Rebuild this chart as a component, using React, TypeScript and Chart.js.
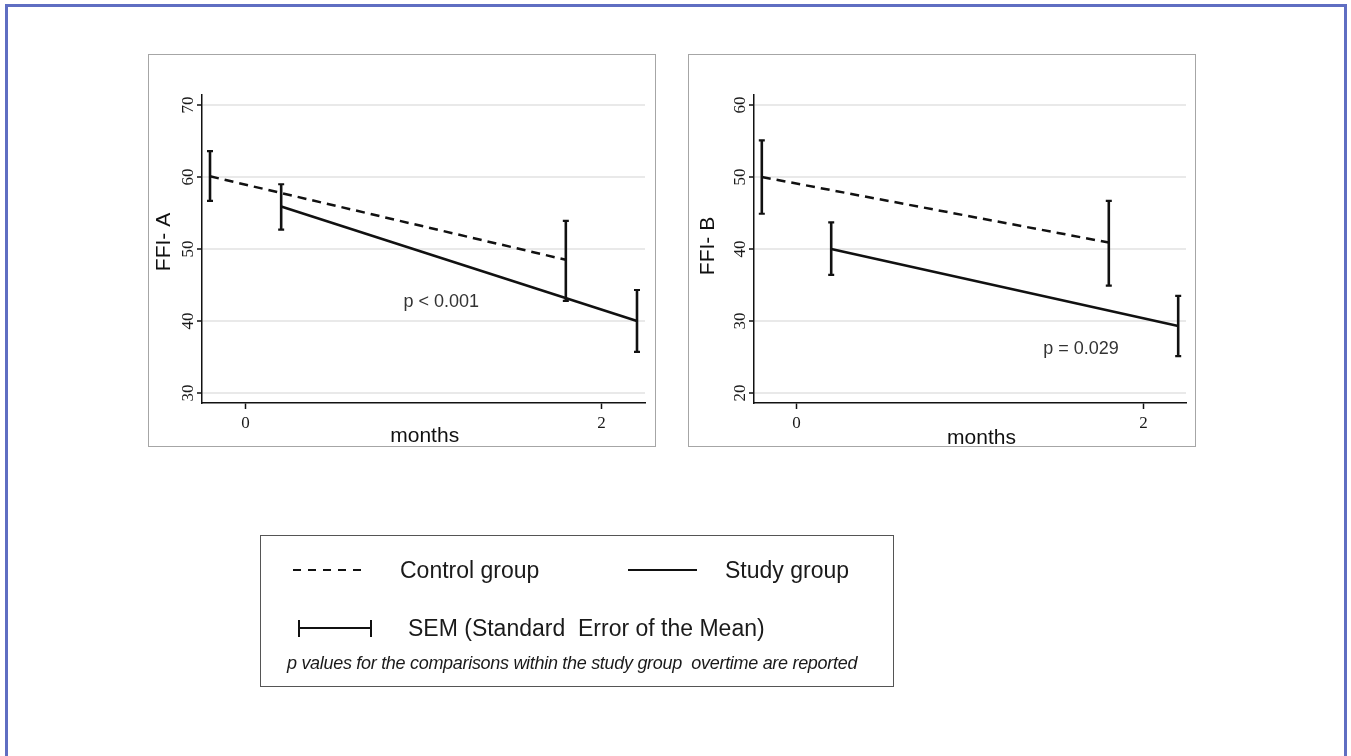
import React, { useEffect, useRef } from "react";
import { Chart, registerables } from "chart.js";

Chart.register(...registerables);

// ---------- data ----------
const xTicks = [0, 2];
const xTickLabels = ["0", "2"];

const yTicksA = [30, 40, 50, 60, 70];
const yTickLabelsA = ["30", "40", "50", "60", "70"];
const yTicksB = [20, 30, 40, 50, 60];
const yTickLabelsB = ["20", "30", "40", "50", "60"];

// time points are dodged so the two groups do not overlap
const controlX = [-0.2, 1.8];
const studyX = [0.2, 2.2];

const controlMeanA = [60.1, 48.5];
const controlLowA = [56.7, 42.8];
const controlHighA = [63.6, 53.9];
const studyMeanA = [55.9, 40.0];
const studyLowA = [52.7, 35.7];
const studyHighA = [59.0, 44.3];

const controlMeanB = [50.0, 40.9];
const controlLowB = [44.9, 34.9];
const controlHighB = [55.1, 46.7];
const studyMeanB = [40.0, 29.3];
const studyLowB = [36.4, 25.1];
const studyHighB = [43.7, 33.5];

const pTextA = "p < 0.001";
const pPosA = [1.1, 42.6];
const pTextB = "p = 0.029";
const pPosB = [1.64, 26.1];

const yTitleA = "FFI- A";
const yTitleB = "FFI- B";
const xTitle = "months";

// ---------- panel ----------
type PanelProps = {
  left: number;
  top: number;
  width: number;
  height: number;
  areaLeft: number;
  areaTop: number;
  areaRight: number;
  areaBottom: number;
  yMin: number;
  yMax: number;
  yTicks: number[];
  yTickLabels: string[];
  cMean: number[];
  cLow: number[];
  cHigh: number[];
  sMean: number[];
  sLow: number[];
  sHigh: number[];
  pText: string;
  pPos: number[];
  yTitle: string;
  yTitleDx: number;
  yTitleY: number;
  xTitleX: number;
  xTitleBase: number;
};

function Panel(p: PanelProps) {
  const ref = useRef<HTMLCanvasElement | null>(null);
  useEffect(() => {
    if (!ref.current) return;
    const decor = {
      id: "decor" + p.left,
      afterDatasetsDraw(chart: any) {
        const ctx = chart.ctx as CanvasRenderingContext2D;
        const xs = chart.scales.x;
        const ys = chart.scales.y;
        const drawBars = (xv: number[], lo: number[], hi: number[]) => {
          ctx.save();
          ctx.strokeStyle = "#111";
          for (let i = 0; i < xv.length; i++) {
            const px = xs.getPixelForValue(xv[i]);
            const yl = ys.getPixelForValue(lo[i]);
            const yh = ys.getPixelForValue(hi[i]);
            ctx.lineWidth = 2.6;
            ctx.beginPath();
            ctx.moveTo(px, yl);
            ctx.lineTo(px, yh);
            ctx.stroke();
            ctx.lineWidth = 2.2;
            ctx.beginPath();
            ctx.moveTo(px - 3, yl);
            ctx.lineTo(px + 3, yl);
            ctx.moveTo(px - 3, yh);
            ctx.lineTo(px + 3, yh);
            ctx.stroke();
          }
          ctx.restore();
        };
        drawBars(controlX, p.cLow, p.cHigh);
        drawBars(studyX, p.sLow, p.sHigh);
      },
      afterDraw(chart: any) {
        const ctx = chart.ctx as CanvasRenderingContext2D;
        const xs = chart.scales.x;
        const ys = chart.scales.y;
        const area = chart.chartArea;
        ctx.save();
        // y tick labels (rotated)
        ctx.fillStyle = "#1a1a1a";
        ctx.font = '17px "Liberation Serif"';
        ctx.textAlign = "center";
        ctx.textBaseline = "middle";
        p.yTicks.forEach((v, i) => {
          const py = ys.getPixelForValue(v);
          ctx.save();
          ctx.translate(area.left - 13.5, py);
          ctx.rotate(-Math.PI / 2);
          ctx.fillText(p.yTickLabels[i], 0, 0);
          ctx.restore();
        });
        // x tick labels
        xTicks.forEach((v, i) => {
          const px = xs.getPixelForValue(v);
          ctx.fillText(xTickLabels[i], px, area.bottom + 21);
        });
        // axis titles
        ctx.fillStyle = "#111";
        ctx.font = '21px "Liberation Sans"';
        ctx.textBaseline = "alphabetic";
        ctx.fillText(xTitle, p.xTitleX - p.left, p.xTitleBase - p.top);
        ctx.save();
        ctx.translate(area.left + p.yTitleDx, p.yTitleY - p.top);
        ctx.rotate(-Math.PI / 2);
        ctx.textBaseline = "middle";
        ctx.fillText(p.yTitle, 0, 0);
        ctx.restore();
        // p value annotation
        ctx.fillStyle = "#333";
        ctx.font = '18px "Liberation Sans"';
        ctx.textBaseline = "middle";
        ctx.fillText(p.pText, xs.getPixelForValue(p.pPos[0]), ys.getPixelForValue(p.pPos[1]));
        ctx.restore();
      },
    };
    const chart = new Chart(ref.current, {
      type: "line",
      data: {
        datasets: [
          {
            data: controlX.map((x, i) => ({ x, y: p.cMean[i] })),
            borderColor: "#111",
            borderWidth: 2.5,
            borderDash: [9, 6],
            pointRadius: 0,
            fill: false,
            tension: 0,
          },
          {
            data: studyX.map((x, i) => ({ x, y: p.sMean[i] })),
            borderColor: "#111",
            borderWidth: 2.5,
            pointRadius: 0,
            fill: false,
            tension: 0,
          },
        ],
      },
      options: {
        responsive: false,
        animation: false,
        devicePixelRatio: 1,
        layout: {
          padding: { left: 0, top: p.areaTop, right: p.width - p.areaRight, bottom: 0 },
        },
        plugins: { legend: { display: false }, tooltip: { enabled: false } },
        scales: {
          x: {
            type: "linear",
            min: -0.245,
            max: 2.245,
            afterBuildTicks: (s: any) => {
              s.ticks = xTicks.map((v) => ({ value: v }));
            },
            afterFit: (s: any) => {
              s.height = p.height - p.areaBottom;
            },
            ticks: { display: false },
            grid: {
              display: true,
              drawOnChartArea: false,
              drawTicks: true,
              tickLength: 6,
              tickColor: "#111",
              tickWidth: 1.5,
            },
            border: { display: true, color: "#111", width: 1.5 },
          },
          y: {
            type: "linear",
            min: p.yMin,
            max: p.yMax,
            afterBuildTicks: (s: any) => {
              s.ticks = p.yTicks.map((v) => ({ value: v }));
            },
            afterFit: (s: any) => {
              s.width = p.areaLeft;
            },
            ticks: { display: false },
            grid: {
              display: true,
              color: "#e9e9e9",
              lineWidth: 2,
              drawTicks: true,
              tickLength: 5,
              tickColor: "#111",
              tickWidth: 1.5,
            },
            border: { display: true, color: "#111", width: 1.5 },
          },
        },
      },
      plugins: [decor],
    } as any);
    return () => chart.destroy();
  }, []);
  return (
    <div style={{ position: "absolute", left: p.left, top: p.top, width: p.width, height: p.height }}>
      <canvas ref={ref} width={p.width} height={p.height} style={{ position: "absolute", left: 0, top: 0 }} />
      <div
        style={{
          position: "absolute",
          left: 0,
          top: 0,
          width: p.width,
          height: p.height,
          boxSizing: "border-box",
          border: "1.5px solid #a6a6a6",
        }}
      />
    </div>
  );
}

const txt: React.CSSProperties = {
  position: "absolute",
  fontFamily: '"Liberation Sans", Arial, sans-serif',
  color: "#1a1a1a",
  whiteSpace: "pre",
  lineHeight: 1,
};

export default function App() {
  return (
    <div
      style={{
        position: "fixed",
        left: 0,
        top: 0,
        width: 1351,
        height: 756,
        background: "#fff",
        overflow: "hidden",
      }}
    >
      <div
        style={{
          position: "absolute",
          left: 5,
          top: 4,
          width: 1342,
          height: 800,
          boxSizing: "border-box",
          border: "3px solid #5f6ec2",
        }}
      />
      <Panel
        left={148}
        top={54}
        width={508}
        height={393}
        areaLeft={54}
        areaTop={41}
        areaRight={497}
        areaBottom={349}
        yMin={28.6}
        yMax={71.4}
        yTicks={yTicksA}
        yTickLabels={yTickLabelsA}
        cMean={controlMeanA}
        cLow={controlLowA}
        cHigh={controlHighA}
        sMean={studyMeanA}
        sLow={studyLowA}
        sHigh={studyHighA}
        pText={pTextA}
        pPos={pPosA}
        yTitle={yTitleA}
        yTitleDx={-38}
        yTitleY={242}
        xTitleX={424.7}
        xTitleBase={442}
      />
      <Panel
        left={688}
        top={54}
        width={508}
        height={393}
        areaLeft={66}
        areaTop={41}
        areaRight={498}
        areaBottom={349}
        yMin={18.6}
        yMax={61.4}
        yTicks={yTicksB}
        yTickLabels={yTickLabelsB}
        cMean={controlMeanB}
        cLow={controlLowB}
        cHigh={controlHighB}
        sMean={studyMeanB}
        sLow={studyLowB}
        sHigh={studyHighB}
        pText={pTextB}
        pPos={pPosB}
        yTitle={yTitleB}
        yTitleDx={-46}
        yTitleY={246}
        xTitleX={981.5}
        xTitleBase={444}
      />
      {/* legend */}
      <div
        style={{
          position: "absolute",
          left: 260,
          top: 535,
          width: 634,
          height: 152,
          boxSizing: "border-box",
          border: "1.5px solid #555",
        }}
      />
      <svg width={1351} height={756} style={{ position: "absolute", left: 0, top: 0 }}>
        <line x1={293} y1={570} x2={362} y2={570} stroke="#111" strokeWidth={2} strokeDasharray="8,7" />
        <line x1={628} y1={570} x2={697} y2={570} stroke="#111" strokeWidth={2} />
        <line x1={298} y1={628} x2={372} y2={628} stroke="#111" strokeWidth={2} />
        <line x1={299} y1={620} x2={299} y2={637} stroke="#111" strokeWidth={2} />
        <line x1={371} y1={620} x2={371} y2={637} stroke="#111" strokeWidth={2} />
      </svg>
      <div style={{ ...txt, left: 400, top: 559, fontSize: 23 }}>Control group</div>
      <div style={{ ...txt, left: 725, top: 559, fontSize: 23 }}>Study group</div>
      <div style={{ ...txt, left: 408, top: 617, fontSize: 23 }}>SEM (Standard  Error of the Mean)</div>
      <div style={{ ...txt, left: 287, top: 654, fontSize: 18, fontStyle: "italic", letterSpacing: -0.3 }}>
        p values for the comparisons within the study group  overtime are reported
      </div>
    </div>
  );
}
